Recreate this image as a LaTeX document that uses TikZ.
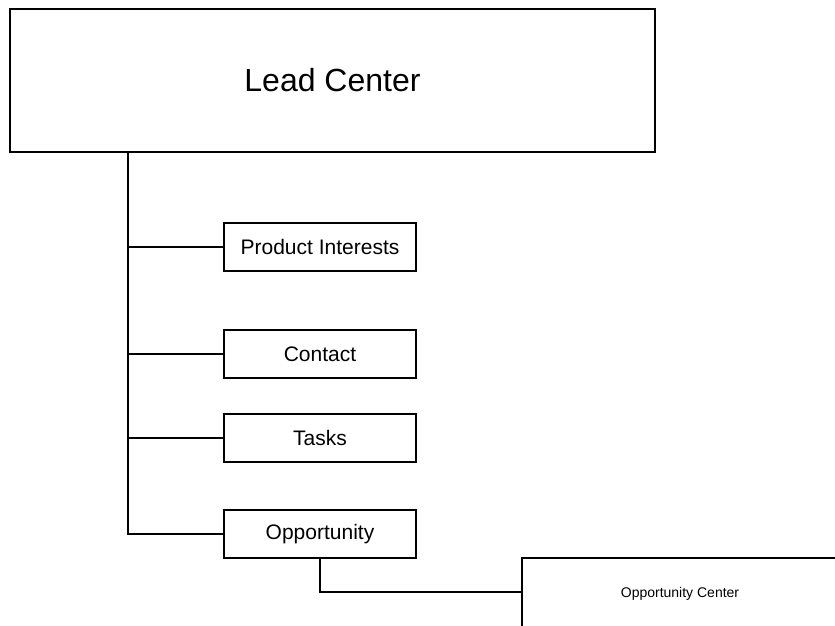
\documentclass[tikz,border=0pt]{standalone}
\usepackage{fontspec}
\setmainfont{Liberation Sans}
\usetikzlibrary{positioning}
\begin{document}
\begin{tikzpicture}[x=1pt, y=-1pt,
    every node/.style={font=\fontsize{21}{25}\selectfont},
    box/.style={draw, line width=1.5pt, minimum width=192pt, minimum height=48pt, inner sep=0pt},
    link/.style={line width=1.5pt}]
  \clip (0,0) rectangle (835,626);
  \fill[white] (0,0) rectangle (835,626);
  % top centre
  \node[box, minimum width=645pt, minimum height=143pt, font=\fontsize{32}{38}\selectfont]
    (lead) at (332.5,80.5) {Lead Center};
  % child boxes
  \foreach \id/\name/\y in {prod/Product Interests/247, contact/Contact/354,
      tasks/Tasks/438, opp/Opportunity/534}{
    \node[box] (\id) at (320,\y) {\name};
  }
  \node[box, minimum width=316pt, minimum height=84pt, text depth=16pt,
    font=\fontsize{14}{16}\selectfont]
    (oppcenter) at (680,600) {Opportunity Center};
  % connectors
  \coordinate (trunkx) at (128,0);
  \coordinate (trunk) at (lead.south -| trunkx);
  \foreach \id in {prod, contact, tasks, opp}{
    \draw[link] (trunk) |- (\id.west);
  }
  \draw[link] (opp.south) |- ([yshift=8pt]oppcenter.west);
\end{tikzpicture}
\end{document}
